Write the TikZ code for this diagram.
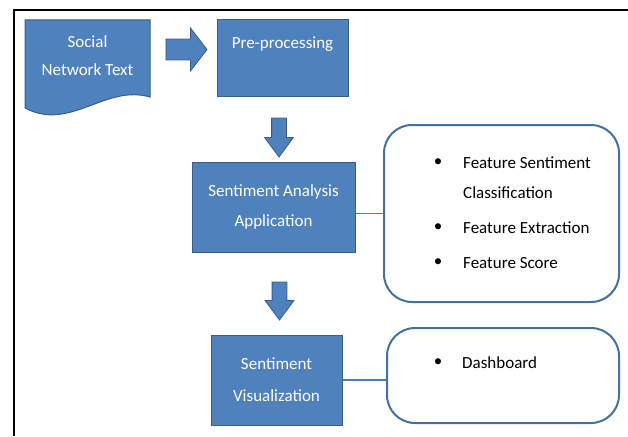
\documentclass[tikz,border=0pt]{standalone}
\usepackage{fontspec}
\setmainfont{Carlito}
\usetikzlibrary{shapes.arrows}
\definecolor{boxblue}{HTML}{4F81BD}
\definecolor{boxedge}{HTML}{385D8A}
\definecolor{roundedge}{HTML}{41719C}
\definecolor{linkblue}{HTML}{4A7EBB}

\begin{document}
\begin{tikzpicture}[x=1pt,y=-1pt,
 every node/.style={font=\fontsize{17}{30}\selectfont},
 block/.style={draw=boxedge,fill=boxblue,text=white,align=center,inner sep=0pt,line width=1pt},
 listbox/.style={draw=roundedge,line width=2pt,rounded corners=28pt,inner sep=0pt},
 blockarrow/.style={single arrow,draw=boxedge,fill=boxblue,inner xsep=0pt,line width=0.8pt},
 link/.style={draw=linkblue,line width=1.2pt},
 itemtext/.style={anchor=west,inner sep=0pt}]
 \useasboundingbox (0,0) rectangle (628,436);

 % frame, top and left only
 \draw[line width=2pt] (14,436) -- (14,10) -- (628,10);

 % document shape
 \filldraw[draw=boxedge,fill=boxblue,line width=1pt]
 (25,20) -- (150,20) -- (150,97) .. controls (105,84) and (70,132) .. (25,108) -- cycle;
 \node[text=white,align=center,font=\fontsize{17}{28}\selectfont] (txt) at (87.5,56) {Social\\Network Text};

 \node[blockarrow,inner ysep=10pt,minimum height=41pt,
 single arrow head extend=11pt,single arrow tip angle=105] (a1) at (182.5,49.5) {};

 \node[block,minimum width=131pt,minimum height=76pt] (pre) at (282.5,58) {Pre-processing\\\mbox{}};

 \node[blockarrow,rotate=-90,inner ysep=7pt,minimum height=39pt,
 single arrow head extend=7pt,single arrow tip angle=73] (a2) at (279,132.5) {};

 \node[block,minimum width=163pt,minimum height=90pt] (app) at (273.5,207) {Sentiment Analysis\\Application};

 \node[blockarrow,rotate=-90,inner ysep=7pt,minimum height=38pt,
 single arrow head extend=7pt,single arrow tip angle=73] (a3) at (279.5,296) {};

 \node[block,minimum width=131pt,minimum height=90pt] (vis) at (276.5,380) {Sentiment\\[2pt]Visualization};

 % feature list
 \node[listbox,minimum width=235pt,minimum height=177pt] (feat) at (501.5,213.5) {};
 \foreach \y/\t [count=\i] in {163/Feature Sentiment,228/Feature Extraction,263/Feature Score} {
 \node (b\i) at (438,\y) {\textbullet};
 \node[itemtext] (f\i) at (463,\y) {\t};
 }
 \node[itemtext] (f0) at (463,193) {Classification};

 \node[listbox,minimum width=232pt,minimum height=95pt] (dash) at (503,375.5) {};
 \node (b4) at (438,363) {\textbullet};
 \node[itemtext] (d1) at (462,363) {Dashboard};

 \draw[link] (app.east |- feat.west) -- (feat.west);
 \draw[link] (vis.east) -- (vis.east -| dash.west);
\end{tikzpicture}
\end{document}
